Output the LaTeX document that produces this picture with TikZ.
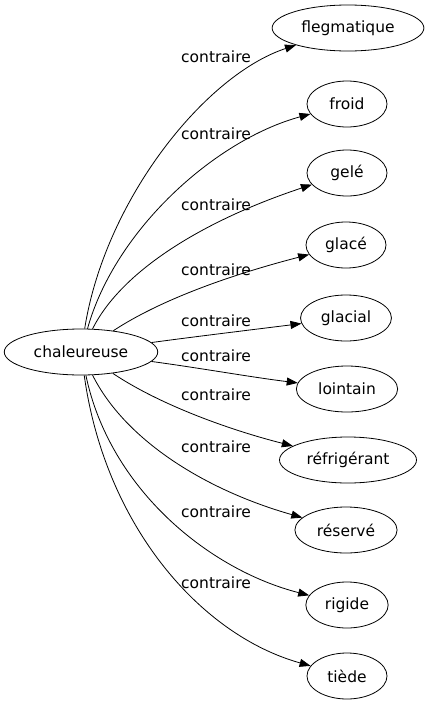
\documentclass[tikz,border=0pt]{standalone}
\usepackage{fontspec}
\usetikzlibrary{shapes.geometric, arrows.meta}
\newfontfamily\wordfont{DejaVu Sans}
\tikzset{
    mot/.style={ellipse, draw, line width=0.8pt, inner xsep=7pt, inner ysep=2pt,
        minimum width=80pt, minimum height=46pt,
        font=\wordfont\fontsize{15.5}{18}\selectfont},
    rel/.style={inner sep=0pt, font=\wordfont\fontsize{15.5}{18}\selectfont},
    fleche/.style={-{Triangle[length=11pt, width=8pt]}, line width=0.8pt}
}

\begin{document}
\begin{tikzpicture}[x=1pt, y=-1pt]
    \useasboundingbox (0,0) rectangle (428,707);

    \node[mot] (chal) at (81,352) {chaleureuse};

    \node[mot] (fleg) at (348,28) {flegmatique};
    \node[mot] (froid) at (347,104) {froid};
    \node[mot] (gele) at (347,173) {gelé};
    \node[mot] (glace) at (346,245) {glacé};
    \node[mot] (glacial) at (346,318) {glacial};
    \node[mot] (loin) at (347,389) {lointain};
    \node[mot] (refrig) at (348,460) {réfrigérant};
    \node[mot] (reserve) at (346,530) {réservé};
    \node[mot] (rigide) at (347,605) {rigide};
    \node[mot] (tiede) at (347,676) {tiède};

    \node[rel] (l1) at (216,57) {contraire};
    \node[rel] (l2) at (216,134) {contraire};
    \node[rel] (l3) at (216,205) {contraire};
    \node[rel] (l4) at (216,270) {contraire};
    \node[rel] (l5) at (216,321) {contraire};
    \node[rel] (l6) at (216,356) {contraire};
    \node[rel] (l7) at (216,395) {contraire};
    \node[rel] (l8) at (216,447) {contraire};
    \node[rel] (l9) at (216,512) {contraire};
    \node[rel] (l10) at (216,583) {contraire};

    \draw[fleche] (chal) .. controls (105,200) and (205,75) .. (fleg);
    \draw[fleche] (chal) .. controls (115,230) and (215,140) .. (froid);
    \draw[fleche] (chal) .. controls (122,270) and (205,220) .. (gele);
    \draw[fleche] (chal) .. controls (160,300) and (230,275) .. (glace);
    \draw[fleche] (chal) .. controls (200,336) and (250,330) .. (glacial);
    \draw[fleche] (chal) .. controls (200,368) and (250,377) .. (loin);
    \draw[fleche] (chal) .. controls (160,405) and (230,430) .. (refrig);
    \draw[fleche] (chal) .. controls (125,440) and (205,490) .. (reserve);
    \draw[fleche] (chal) .. controls (110,490) and (210,570) .. (rigide);
    \draw[fleche] (chal) .. controls (105,525) and (200,635) .. (tiede);

\end{tikzpicture}
\end{document}
